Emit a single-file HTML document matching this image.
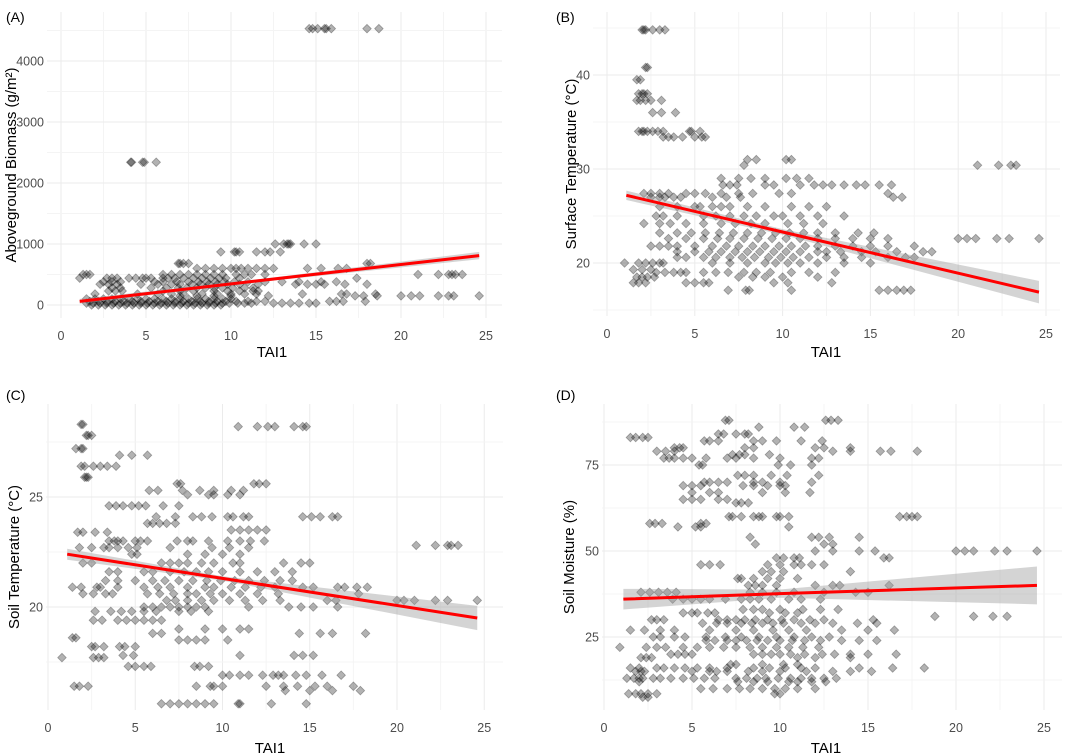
<!DOCTYPE html>
<html><head><meta charset="utf-8">
<style>
html,body{margin:0;padding:0;background:#fff;}
svg{display:block;font-family:"Liberation Sans",Arial,sans-serif;}
</style></head>
<body>
<svg id="chart" width="1065" height="755" viewBox="0 0 1065 755" xmlns="http://www.w3.org/2000/svg"></svg>
<script>
// ---------- DATA (rows: [y, [x values]]) ----------
const rowsA = [
 [4530,[14.6,14.8,15.1,15.5,15.6,15.9,18,18.7]],
 [2340,[4.1,4.15,4.8,4.9,5.6]],
 [1000,[12.6,13.1,13.3,13.4,13.5,14.3,15]],
 [870,[9.4,10.2,10.3,10.5,11.5,12,12.3,12.9]],
 [680,[6.9,7,7.2,7.5,18,18.2]],
 [600,[8,8.5,9,9.5,10,10.3,10.6,11,11.5,12,12.5,14.5,15.3,16.3,16.8]],
 [500,[1.3,1.5,1.7,6,6.5,7,7.5,8,8.5,9,9.5,10.3,10.8,11.2,12,21,22.2,22.8,23,23.2,23.6]],
 [440,[1.1,2.7,3,3.3,4,4.4,4.8,5,5.3,6,6.3,6.7,7.2,7.8,8.3,8.8,9.3,9.7,10.5,17.4]],
 [380,[2.5,3,3.5,5.5,6,6.8,7.5,8.1,8.6,9.1,9.6,10.2,11,12,13,14,15.3,16.2]],
 [340,[2.3,2.8,3.3,4.7,5.7,6.5,7,7.7,8.2,8.7,9.2,9.8,10.5,11.6,13.8,14.5,15,15.5,16.7,18]],
 [280,[3,3.5,5.3,6.2,6.9,7.4,8,8.5,9,9.5,10.1,10.8,11.3]],
 [230,[2.8,3.2,3.6,6,7,7.8,9,9.8,10.5,11.3,11.6]],
 [180,[2,4.5,5.7,6.5,7.2,8.3,9.2,10,10.8,11.5,14.2,16.5,16.8,18.5]],
 [150,[7,8,9,10,12.2,17.3,17.8,18.6,20,20.6,21.1,22.2,22.8,23.1,24.6]],
 [100,[1.5,2,2.5,3,3.5,4,4.5,5,5.5,6,6.5,7,7.5,8,8.5,9,9.5,10]],
 [60,[1.7,2.2,2.7,3.2,3.7,4.2,4.7,5.2,5.7,6.2,6.7,7.2,7.7,8.2,8.7,9.2,9.7,10.3,11,11.5,12,15.8,16.2,16.6,17.9]],
 [30,[1.5,1.9,2.3,2.7,3.1,3.5,3.9,4.3,4.7,5.1,5.5,5.9,6.3,6.7,7.1,7.5,7.9,8.3,8.7,9.1,9.5,9.9,10.4,10.8,11.2,12.5,13,13.5,14,14.6,15]],
 [0,[1.8,2.2,2.6,3,3.4,3.8,4.2,4.6,5,5.4,5.8,6.2,6.6,7,7.4,7.8,8.2,8.6,9,9.4]]
];
const rowsB = [
 [44.8,[2,2.1,2.2,2.6,3,3.3]],[40.8,[2.2,2.3]],[39.5,[1.7,1.9]],[38,[1.8,2,2.1,2.3]],
 [37.3,[1.7,1.9,2.2,2.5,3.1]],[36,[2.6,3.1,3.9]],
 [34,[1.8,2,2.1,2.3,2.6,2.9,3.2,4.7,4.8,5.3]],[33.4,[3.2,3.5,3.8,4.3,5,5.4,5.6]],
 [31,[8,8.5,10.2,10.5]],[30.4,[7.8,21.1,22.3,23,23.3]],
 [29,[6.5,7.5,8.2,9,10.2,10.8,11.5]],
 [28.3,[6.6,7,7.4,9,9.5,11,11.8,12.3,12.8,13.5,14.2,14.7,15.5,16.2]],
 [27.4,[2.1,2.5,3,3.5,4.5,5,5.6,6.5,7.5,8.3,9.8,10.5,16]],
 [27,[2.5,3,3.3,3.8,4.2,6,6.8,7.6,16.3,16.8]],
 [26,[3,4,5,5.3,6,6.5,7,8,9,10.5,11.5,12.5]],
 [25,[2.8,3.2,4,5.5,6.2,7,7.8,8.5,9.5,10,11,12,13.5]],
 [24.2,[2.1,3,3.6,4.5,5.5,6.5,7.3,8.2,9,10.3,11.2,12.3]],
 [23.2,[3,4,4.8,5.6,6.4,7.2,8,8.8,9.6,10.4,11.2,12,13,14.3,15.2]],
 [22.6,[3.5,4.5,5.5,6.3,7,7.8,8.6,9.4,10.2,11,12,13,14,15,16,20,20.5,21,22.2,22.9,24.6]],
 [21.8,[2.5,3,3.5,4,5,6,6.8,7.5,8.3,9,9.8,10.5,11.3,12,13,14,15,16,17.5]],
 [21.2,[4,5,5.8,6.5,7.3,8,8.7,9.5,10.2,11,12,12.5,13.3,14.5,15.3,16.5,18,18.5]],
 [20.6,[4,4.5,5.5,6.2,7,7.7,8.4,9.2,9.9,10.6,11.5,12.5,13.5,14.5,16,17,17.5]],
 [20,[1,1.8,2.2,2.6,3,3.2,6,7,8,9,9.6,10.3,11,12,13.5,15]],
 [19.3,[1.5,2,2.5]],
 [19,[2.8,3.3,3.8,4.2,4.5,5.5,6.2,6.9,7.8,8.5,9.3,10.5,11.5,13]],
 [18.5,[1.7,2,2.3,2.7,7.5,8.3,9,10,12]],
 [17.9,[1.5,1.8,2.2,4.5,5,5.5,5.8,9.5,10.3,12.8]],
 [17.1,[6.9,7.9,8.1,10.5,15.5,16,16.5,16.9,17.3]]
];
const rowsC = [
 [28.3,[1.9,2]],[28.2,[10.9,12,12.6,13,14.1,14.6,14.8]],[27.8,[2.2,2.3,2.5]],
 [27.2,[1.6,1.9,2]],[26.9,[4.1,4.8,5.7]],[26.4,[1.9,2.1,2.6,3,3.4,3.9]],
 [25.9,[2.1,2.2,2.3]],[25.6,[7.4,7.6,11.8,12.1,12.5]],
 [25.3,[5.8,6.3,7.7,8.7,9.5,10.5,11.2]],[25.1,[8,9.2,9.5,10.3,11]],
 [24.6,[3.5,3.9,4.3,4.8,5.2,5.6,6.6,7.5]],
 [24.1,[6.2,7.3,8.3,8.8,9.4,10.3,10.6,11.2,11.5,14.6,15.1,15.6,16.3,16.6]],
 [23.8,[5.7,6,6.4,6.8,7.3]],[23.5,[10.5,11,11.5,12,12.5]],[23.4,[1.7,2,2.7,3.4]],
 [23,[3.5,3.8,4,4.3,5,5.3,5.7,7.4,8,8.3,9.2,10.3,11,11.6,12.4]],
 [22.8,[21.1,22.2,22.9,23.1,23.5]],
 [22.7,[1.8,2.5,3.2,3.5,4,4.6,5.1,7,9.4,10.4,11.5]],
 [22.4,[4.8,5.1,8,9,10,11]],
 [22,[2,2.5,6.5,7,7.5,8,8.8,9.5,10.6,11,13.5,14.5,15]],
 [21.6,[3.5,4,5.5,6,7,7.8,8.5,9.2,10,11,12,13,14]],
 [21.2,[3.3,4,5,6,6.7,7.5,8.3,9.1,9.9,10.7,11.5,12.4,13.3,14]],
 [20.9,[1.4,1.9,2.8,3,4,5.5,6.3,7,8,9,9.5,10.5,11.3,12.2,13,14.6,15.2,16.6,17,17.7,18.3]],
 [20.6,[2,2.6,3.3,3.7,5.7,6.4,7.2,8,8.5,9.3,10,11,12,13.2,17.8]],
 [20.3,[6.8,7.3,8,8.8,9.5,10.4,11.3,12.3,13.3,16,16.5,20,20.4,21,22.2,22.9,24.6]],
 [20,[5.5,6,6.5,7,7.5,8,8.5,9,11.5,13.8,14.5,15.2,16.6]],
 [19.8,[2.7,3.6,4.2,4.8,5.5,6.2,7.5,8.2,9.2]],
 [19.4,[2.6,3.1,4,4.5,5,5.5,6,6.5]],
 [19,[7.5,9,10,11,11.5]],[18.8,[6,6.5,14.4,15.6,16.3,18.2]],[18.6,[1.4,1.6]],
 [18.5,[7.5,8,8.5,9,10.3]],[18.2,[2.5,2.7,3.2,4.1,4.4,5]],
 [17.8,[4.3,4.9,11,14.1,14.6,15.2]],[17.7,[0.8,2.6,2.9,3.2]],
 [17.3,[4.6,5,5.5,5.9,8.4,8.7,9.2]],
 [16.9,[10,10.4,11,11.5,12.3,12.9,13.2,13.5,14.2,14.8,15.7,16.8]],
 [16.4,[1.5,1.8,2.3,8.5,9.3,9.5,10,12.5,13.5,14.3,15.3,16,17.5]],
 [16.2,[13.6,15,16.3,17.9]],
 [15.6,[6.5,7,7.5,8,8.5,9,9.5,10.9,11,12.8,14.8]]
];
const rowsD = [
 [88,[6.9,7.1,12.6,12.9,13.3]],[86,[8.8,10.8,11.4]],[84,[6.5,6.8,7.5,8,8.2]],
 [83,[1.5,1.8,2.2,2.5]],[82,[5.7,6,6.5,8.5,9,9.8,11.2,12.4]],
 [80,[4,4.3,4.5,8,8.5,12,12.5,14]],[79,[3,3.5,4,13,14,15.7,16.3,17.8]],
 [78,[7.3,7.7,8,9.4]],[77,[3.4,3.7,4,4.5,5,5.8,7,7.5,8.5,10,11.8,12.2]],
 [75,[5.4,5.6,9.9,10.6,11.8]],[72,[7.6,8,8.5,9.5,10.4,12.2]],
 [70,[5.7,6,6.5,7,8.5,9,10,11.8]],[69,[4.5,5,5.5,7.9,8.5,9.3,10,10.3]],
 [67,[5,6,6.5,9,10.3,11.7]],[65,[4.5,5,5.5,6.5,7]],[64,[7.5,7.8,8.2]],
 [60,[7.1,7.3,7.8,8.5,8.8,9,9.8,10,10.5,16.8,17.2,17.5,17.8]],
 [58,[2.6,2.9,3.3,5.5,5.8]],[57,[4.2,5.2,5.5,10.5]],[54,[8.3,11.8,12.2,12.8,14.5]],
 [52,[8.6,12.5,13]],[50,[12,13,14.5,15.4,20,20.5,21,22.2,22.9,24.6]],
 [48,[9.8,10.2,10.8,11.1,15.9,16.2]],[46,[5.5,6,6.6,9.3,10,10.8,11.2,11.8,12.5]],
 [44,[9,9.5,10.2,14]],[42,[7.6,7.8,8.5,9.3,10,11]],
 [40,[8.2,8.6,9,9.8,12,13,13.4,16.2]],
 [38,[2.1,2.6,3.1,3.6,4.1,8.3,9,9.8,10.8,12.5,14.3,15]],
 [36,[3.9,4.5,5,5.5,6,6.9,7.8,8.3,8.8,9.5,10.5,11.2,12.3]],
 [33,[7.9,8.5,9,10,11.3,12.3,13.3]],[32,[4.5,5,5.3,5.9,6.3,9.4,10.3,11]],
 [31,[18.8,21,22.1,22.9]],
 [30,[2.7,3,3.4,6.5,7,7.5,8,8.6,9.3,10.1,10.8,11.7,12.5,15.3]],
 [29,[5.6,6.4,7,7.8,8.4,9,9.6,10.2,11.2,12,13,14.4,15.5]],
 [27,[1.5,2.3,3.2,4,6,7.5,8.5,9.6,10.5,11.5,13.5,15,16.5]],
 [25,[2.8,3.2,4,4.6,5.8,6.9,7.8,8.8,9.8,10.8,11.8,12.8]],
 [24,[5.8,6.3,7,7.5,8.1,8.7,9.3,10,10.7,11.4,12.3,13.5,14.5,15.5]],
 [22,[0.9,2.4,3,3.5,4.5,5.3,6,6.8,7.5,8.3,9,9.8,10.5,11.3,12.2]],
 [20,[3.8,4.2,4.6,5,8.5,9,9.5,10,10.6,11.4,12.4,13.1,14,15,16.6]],
 [19,[2.1,2.4,2.7,11,12,14]],[17,[7.2,7.5,9,10.2,11]],
 [16,[1.5,2,3,3.4,4,4.6,5.3,6,7,8.5,9.4,10.3,11.2,12,14.5,16.4,18.2]],
 [15,[1.8,2.1,2.3,5,6,6.4,7,8.2,9,10,11.5,13,14,15.2]],
 [13,[1.3,1.7,2,2.2,2.8,3.2,3.8,4.5,5.1,5.7,6.3,7.5,8.1,8.7,9.2,9.9,10.6,11.2,11.8,12.5,13.2]],
 [12,[2,7.6,8.5,9.3,10.5,11,11.8,12.6]],
 [10,[5.5,6.2,7,7.7,8.3,9,9.7,10.3,11,12]],
 [8.5,[1.4,1.8,2.1,2.5,3,9.7,10]],[7.5,[2.2,2.5]]
];
// fit lines: [x, y, band half-width]
const fitA = [[1.1,60,40],[12,410,25],[24.6,810,60]];
const fitB = [[1.1,27.2,0.5],[10,23.3,0.3],[24.6,16.9,1.2]];
const fitC = [[1.1,22.4,0.25],[10,21.3,0.1],[24.6,19.5,0.55]];
const fitD = [[1.1,36,3],[10,37.6,1.2],[24.6,40,5.5]];
const xTicks = [0,5,10,15,20,25];
const yTicksA = [0,1000,2000,3000,4000];
const yTicksB = [20,30,40];
const yTicksC = [20,25];
const yTicksD = [25,50,75];

// ---------- RENDER ----------
const NS="http://www.w3.org/2000/svg";
const svg=document.getElementById('chart');
function mk(tag,attrs,parent){const e=document.createElementNS(NS,tag);for(const k in attrs)e.setAttribute(k,attrs[k]);(parent||svg).appendChild(e);return e;}

const panels=[
 {id:'a',tag:'(A)',tagX:6,tagY:22,rows:rowsA,fit:fitA,yt:yTicksA,x0:61,kx:17.0,yz:0,yp:305,ky:0.061,L:47,R:502,T:12,B:318,title:'Aboveground Biomass (g/m²)',tx:272,ty:357,yx:16,minor:500},
 {id:'b',tag:'(B)',tagX:556,tagY:22,rows:rowsB,fit:fitB,yt:yTicksB,x0:607,kx:17.56,yz:20,yp:263,ky:9.4,L:593,R:1060,T:12,B:316,title:'Surface Temperature (°C)',tx:826,ty:357,yx:576,minor:5},
 {id:'c',tag:'(C)',tagX:6,tagY:400,rows:rowsC,fit:fitC,yt:yTicksC,x0:48,kx:17.45,yz:20,yp:607,ky:22,L:46,R:503,T:404,B:710,title:'Soil Temperature (°C)',tx:270,ty:753,yx:19,minor:2.5},
 {id:'d',tag:'(D)',tagX:556,tagY:400,rows:rowsD,fit:fitD,yt:yTicksD,x0:604,kx:17.6,yz:75,yp:465,ky:3.44,L:602,R:1062,T:404,B:710,title:'Soil Moisture (%)',tx:826,ty:753,yx:574,minor:12.5}
];

panels.forEach(p=>{
 const X=v=>p.x0+v*p.kx;
 const Y=v=>p.yp-(v-p.yz)*p.ky;
 const g=mk('g',{});
 
 
 const t=mk('text',{x:p.tagX,y:p.tagY,'font-size':14,fill:'#000'},g);
 t.textContent=p.tag;
 
 
 const grid=mk('g',{},g);
 
 
 for(let v=0;v<=25.01;v+=2.5){const xx=X(v);mk('line',{x1:xx,x2:xx,y1:p.T,y2:p.B,stroke:(v%5===0)?'#ebebeb':'#f4f4f4','stroke-width':1},grid);}
 const yLo=p.yz-(p.B-p.yp)/p.ky, yHi=p.yz+(p.yp-p.T)/p.ky;
 const s0=Math.ceil(yLo/p.minor)*p.minor;
 for(let v=s0;v<=yHi;v+=p.minor){const yy=Y(v);const major=Math.abs(v/(p.minor*2)-Math.round(v/(p.minor*2)))<1e-6;mk('line',{x1:p.L,x2:p.R,y1:yy,y2:yy,stroke:major?'#ebebeb':'#f4f4f4','stroke-width':1},grid);}
 xTicks.forEach(v=>{const e=mk('text',{x:X(v),y:p.B+22,'font-size':12.5,fill:'#4d4d4d','text-anchor':'middle'},g);e.textContent=v;
  
  });
 p.yt.forEach(v=>{const e=mk('text',{x:p.L-3,y:Y(v)+4.5,'font-size':12.5,fill:'#4d4d4d','text-anchor':'end'},g);e.textContent=v;
  
  });
 const xt=mk('text',{x:p.tx,y:p.ty,'font-size':15,fill:'#000','text-anchor':'middle'},g);xt.textContent='TAI1';
 
 
 const ycy=(p.T+p.B)/2, yx=p.yx;
 const ytt=mk('text',{x:yx,y:ycy,'font-size':15,fill:'#000','text-anchor':'middle',transform:`rotate(-90 ${yx} ${ycy})`},g);ytt.textContent=p.title;
 
 
 const pts=mk('g',{},g);
 
 
 p.rows.forEach(r=>{r[1].forEach(xv=>{
  const cx=X(xv), cy=Y(r[0]);
  const d=mk('path',{d:`M${cx} ${cy-4.3}L${cx+4.3} ${cy}L${cx} ${cy+4.3}L${cx-4.3} ${cy}Z`,fill:'rgba(0,0,0,0.3)',stroke:'rgba(0,0,0,0.3)','stroke-width':0.8},pts);
  
  
 });});
 const f=p.fit;
 let bd='M'+f.map(q=>X(q[0])+' '+Y(q[1]+q[2])).join('L')+'L'+f.slice().reverse().map(q=>X(q[0])+' '+Y(q[1]-q[2])).join('L')+'Z';
 const band=mk('path',{d:bd,fill:'rgba(160,160,160,0.45)'},g);
 
 
 const ln=mk('polyline',{points:f.map(q=>X(q[0])+','+Y(q[1])).join(' '),fill:'none',stroke:'#ff0000','stroke-width':3},g);
 
 
});
</script>
</body></html>
